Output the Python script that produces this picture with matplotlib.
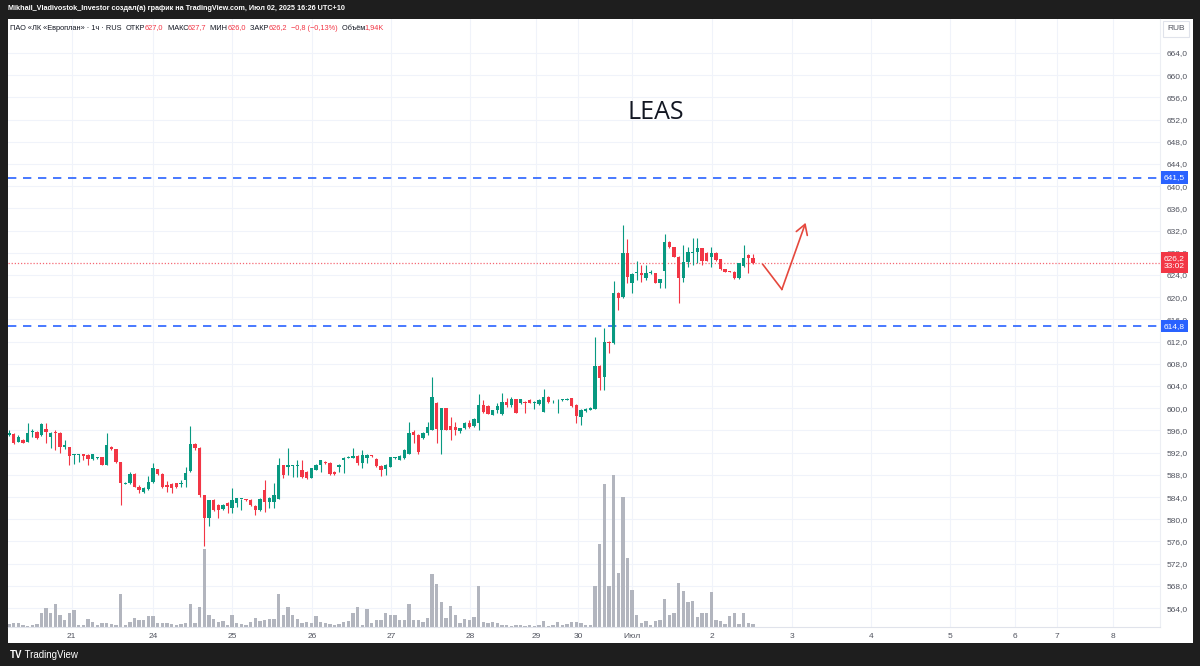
import numpy as np
import matplotlib
matplotlib.use("Agg")
import matplotlib.pyplot as plt
from matplotlib.patches import Rectangle
from matplotlib.transforms import blended_transform_factory

plt.rcParams['font.family'] = ['Liberation Sans', 'DejaVu Sans']

# hourly candles, LEAS (ПАО «ЛК «Европлан»)
opens = [595.1, 595.3, 594.0, 594.3, 594.0, 595.7, 595.7, 595.2, 596.3, 594.8,
         595.7, 595.5, 593.1, 593.0, 591.6, 591.6, 591.7, 591.5, 590.8, 591.1,
         591.2, 589.7, 593.1, 592.6, 590.4, 586.4, 586.5, 588.2, 585.9, 584.9,
         585.4, 586.8, 589.0, 588.2, 586.2, 586.4, 586.5, 586.3, 587.1, 588.7,
         593.5, 592.8, 584.4, 580.2, 583.5, 582.6, 581.8, 583.0, 582.0, 582.9,
         583.6, 583.6, 583.5, 582.4, 581.7, 585.3, 583.2, 583.2, 583.6, 589.8,
         589.5, 589.6, 589.6, 588.9, 588.6, 587.5, 588.9, 589.8, 590.4, 590.2,
         588.6, 589.5, 590.7, 591.1, 591.1, 591.4, 590.2, 591.0, 591.5, 590.8,
         589.6, 589.0, 589.5, 591.0, 590.7, 591.0, 591.8, 595.8, 595.2, 594.6,
         595.5, 596.1, 601.0, 596.1, 600.0, 596.8, 596.7, 595.9, 596.4, 597.3,
         596.8, 597.4, 600.6, 600.4, 598.8, 599.6, 599.0, 601.2, 600.6, 601.6,
         600.9, 601.2, 601.5, 601.0, 600.7, 599.4, 602.0, 601.4, 601.4, 601.5,
         601.5, 601.8, 600.6, 598.5, 599.5, 599.7, 599.9, 607.6, 605.7, 612.0,
         611.7, 620.8, 620.0, 628.0, 622.6, 624.4, 624.4, 623.4, 624.3, 624.3,
         622.5, 624.8, 629.9, 629.0, 627.3, 623.4, 626.4, 628.0, 628.2, 628.8,
         628.0, 627.2, 628.0, 626.8, 625.0, 624.7, 624.6, 623.4, 625.6, 627.6,
         627.0]
highs = [596.0, 595.5, 595.1, 594.4, 597.4, 596.2, 595.9, 597.3, 597.3, 595.8,
         596.1, 595.8, 594.3, 593.1, 591.7, 591.7, 591.7, 591.7, 591.7, 591.2,
         591.3, 595.5, 593.2, 592.6, 590.4, 586.8, 588.6, 588.3, 586.2, 585.8,
         587.8, 590.1, 589.1, 588.3, 586.9, 586.5, 586.6, 587.1, 589.5, 596.8,
         593.8, 593.1, 584.4, 583.5, 583.6, 582.8, 582.8, 583.2, 585.6, 583.9,
         583.7, 583.6, 583.6, 582.6, 583.8, 587.1, 584.1, 586.5, 591.0, 589.8,
         592.8, 589.8, 590.7, 590.7, 588.7, 589.3, 589.9, 590.7, 590.5, 590.3,
         588.7, 589.9, 591.2, 591.4, 592.8, 591.5, 592.4, 591.7, 591.6, 591.0,
         589.7, 589.9, 591.3, 591.3, 591.5, 592.6, 597.6, 596.0, 595.3, 595.7,
         597.6, 605.6, 601.2, 600.1, 600.1, 598.5, 597.6, 596.5, 597.5, 597.9,
         598.2, 602.6, 601.5, 600.5, 599.7, 600.9, 602.7, 601.8, 602.1, 601.7,
         601.7, 601.3, 601.6, 601.3, 601.6, 603.4, 602.2, 601.5, 601.6, 601.7,
         601.8, 601.9, 600.7, 599.8, 600.0, 600.2, 612.9, 607.7, 614.4, 612.1,
         623.0, 620.9, 633.0, 630.4, 624.3, 626.6, 625.8, 625.8, 624.9, 624.4,
         623.3, 631.4, 630.2, 629.1, 627.4, 629.4, 629.1, 630.6, 630.6, 628.9,
         628.1, 629.1, 628.1, 626.9, 625.1, 624.8, 624.7, 626.2, 629.4, 627.7,
         627.7]
lows = [595.0, 593.6, 593.9, 593.7, 593.9, 594.9, 594.4, 595.0, 593.7, 592.9,
        592.5, 591.9, 592.6, 589.8, 590.0, 590.4, 590.7, 589.8, 590.7, 590.9,
        589.7, 589.7, 592.5, 590.1, 582.6, 586.4, 586.4, 585.8, 584.8, 584.7,
        585.2, 586.6, 588.0, 585.6, 585.0, 584.7, 585.6, 585.8, 585.8, 588.6,
        592.5, 584.1, 575.1, 578.8, 581.5, 580.2, 581.7, 581.1, 581.1, 582.3,
        581.7, 583.3, 582.4, 580.8, 581.5, 581.4, 582.0, 582.0, 583.6, 587.4,
        588.0, 587.7, 587.7, 587.4, 587.3, 587.4, 588.8, 588.6, 590.0, 587.9,
        588.0, 588.6, 588.3, 591.0, 591.0, 589.8, 589.2, 590.1, 591.3, 589.5,
        587.8, 588.0, 589.4, 590.9, 590.6, 590.9, 591.7, 593.7, 591.8, 594.5,
        595.2, 596.0, 593.7, 591.8, 596.0, 594.3, 595.2, 595.5, 596.3, 596.4,
        596.6, 596.0, 599.1, 598.9, 598.7, 599.1, 598.8, 600.3, 600.3, 599.1,
        600.8, 599.2, 600.9, 599.8, 600.6, 599.3, 600.9, 600.9, 599.2, 601.3,
        601.4, 600.3, 597.3, 597.0, 599.4, 599.6, 599.8, 603.3, 603.3, 609.9,
        611.6, 617.7, 619.9, 622.5, 620.7, 623.1, 622.8, 623.1, 624.2, 622.5,
        621.6, 621.6, 628.8, 627.2, 619.0, 622.8, 625.5, 625.8, 626.1, 625.8,
        626.5, 625.4, 626.6, 624.9, 624.5, 624.5, 623.3, 623.3, 625.5, 624.3,
        626.0]
closes = [595.5, 593.7, 594.9, 593.8, 595.5, 595.9, 594.7, 597.1, 595.7, 595.5,
          595.5, 593.1, 593.3, 591.4, 591.7, 591.7, 591.4, 590.8, 591.7, 591.2,
          589.7, 593.3, 592.7, 590.4, 586.5, 586.6, 588.2, 585.9, 585.2, 585.6,
          586.8, 589.2, 588.2, 585.8, 585.8, 585.6, 585.8, 586.4, 588.4, 593.5,
          592.8, 584.4, 580.2, 583.5, 581.7, 581.7, 582.6, 582.4, 583.5, 583.8,
          583.7, 583.4, 582.6, 581.7, 583.6, 583.2, 583.8, 584.4, 589.8, 588.0,
          589.8, 589.7, 589.7, 587.7, 587.5, 589.2, 589.8, 590.6, 590.2, 588.2,
          588.2, 589.8, 591.1, 591.3, 591.4, 590.1, 591.5, 591.5, 591.4, 589.6,
          588.9, 589.8, 591.2, 591.2, 591.4, 592.5, 595.6, 595.2, 592.2, 595.6,
          596.7, 602.1, 596.2, 600.0, 596.1, 596.0, 596.0, 596.4, 597.4, 596.7,
          598.0, 600.6, 599.4, 599.0, 599.6, 600.4, 601.2, 600.6, 601.6, 599.2,
          601.6, 600.9, 601.0, 601.2, 601.5, 602.0, 601.1, 601.4, 601.5, 601.6,
          601.7, 600.4, 598.6, 599.7, 599.9, 600.1, 607.6, 605.4, 612.0, 611.7,
          620.8, 619.8, 628.0, 623.7, 624.2, 624.5, 624.0, 624.3, 624.4, 622.6,
          623.2, 629.9, 629.0, 627.3, 623.4, 626.4, 628.2, 628.2, 628.8, 626.6,
          626.6, 628.0, 626.7, 625.0, 624.6, 624.6, 623.4, 626.1, 627.1, 627.0,
          626.2]
# volume, thousands
volumes = [1.9, 2.6, 2.6, 1.3, 0.7, 1.3, 1.9, 9.1, 12.4, 9.1,
           15.0, 7.8, 4.6, 9.1, 11.1, 1.3, 1.3, 5.2, 3.3, 1.3,
           2.6, 2.6, 1.9, 1.3, 21.5, 1.3, 3.3, 5.9, 4.6, 4.6,
           7.2, 7.2, 2.6, 2.6, 2.6, 1.9, 1.3, 1.9, 2.6, 15.0,
           2.6, 13.0, 50.7, 7.8, 5.2, 3.3, 3.9, 1.3, 7.8, 2.6,
           1.9, 1.3, 3.3, 5.9, 3.9, 4.6, 5.2, 5.2, 21.5, 7.8,
           13.0, 7.8, 5.2, 2.6, 3.3, 2.6, 7.2, 3.3, 2.6, 1.9,
           1.3, 1.9, 3.3, 3.9, 9.1, 13.0, 1.3, 11.7, 2.6, 4.6,
           4.6, 9.1, 7.8, 7.8, 4.6, 4.6, 15.0, 4.6, 4.6, 3.3,
           5.9, 34.5, 28.0, 16.3, 5.9, 13.7, 7.8, 2.6, 5.2, 4.6,
           6.5, 26.7, 3.3, 2.6, 3.3, 2.6, 1.3, 1.3, 0.7, 1.3,
           1.3, 0.7, 1.3, 0.7, 1.3, 3.9, 0.7, 1.3, 3.3, 1.3,
           1.9, 3.3, 3.3, 2.6, 1.3, 1.3, 26.7, 53.3, 92.3, 26.7,
           98.2, 35.1, 83.9, 44.9, 24.1, 7.8, 2.6, 3.9, 1.3, 3.9,
           4.6, 18.2, 7.8, 9.1, 28.6, 23.4, 16.3, 16.9, 6.5, 9.1,
           9.1, 22.8, 4.6, 3.9, 1.9, 7.2, 9.1, 1.9, 9.1, 2.6,
           1.94]

day_pos = [13.5, 31, 48, 65.2, 82.2, 99.1, 113.3, 122.4, 134, 151.2,
           168.4, 185.4, 202.4, 216.3, 225.4, 237.4]
day_labels = ['21', '24', '25', '26', '27', '28', '29', '30', 'Июл', '2',
              '3', '4', '5', '6', '7', '8']
price_ticks = [564, 568, 572, 576, 580, 584, 588, 592, 596, 600, 604, 608, 612,
               616, 620, 624, 628, 632, 636, 640, 644, 648, 652, 656, 660, 664]
levels = [641.5, 614.8]
arrow_x = [162.1, 166.2, 171.3]
arrow_y = [625.9, 621.4, 633.4]

UP, DOWN, BLUE = '#089981', '#f23645', '#2962ff'
ARROW = '#e5483d'
TXT = '#50535e'
W, H = 1200, 666


def fx(x):
    return x / W


def fy(y):
    return 1 - y / H


def box(l, t, r, b):
    return [l / W, 1 - b / H, (r - l) / W, (b - t) / H]


def comma(v):
    return f"{v:.1f}".replace('.', ',').replace('-', '−')


fig = plt.figure(figsize=(12, 6.66), dpi=100, facecolor='#1e1e1e')
fig.patches.append(Rectangle((fx(8), fy(643)), (1193 - 8) / W, (643 - 19) / H,
                             transform=fig.transFigure, facecolor='white',
                             edgecolor='none', zorder=-5))

xlim = (-0.2, 247.5)
ylim = (560.6, 670.1)

# grid underneath everything
gax = fig.add_axes(box(8, 19, 1160, 627))
gax.set_xlim(xlim)
gax.set_ylim(ylim)
gax.patch.set_visible(False)
gax.axis('off')
for p in price_ticks:
    gax.axhline(p, color='#f0f3fa', lw=0.8)
for d in day_pos:
    gax.axvline(d, color='#f0f3fa', lw=0.8)

# volume
vax = fig.add_axes(box(8, 19, 1160, 627))
vax.set_xlim(xlim)
vax.set_ylim(0, max(volumes) * 608 / 152)
vax.patch.set_visible(False)
vax.axis('off')
x = np.arange(len(opens))
vax.bar(x, volumes, width=0.72, color='#b2b5be', lw=0)

# price
ax = fig.add_axes(box(8, 19, 1160, 627))
ax.patch.set_visible(False)
ax.set_xlim(xlim)
ax.set_ylim(ylim)
o, h, l, c = (np.array(a) for a in (opens, highs, lows, closes))
cols = np.where(c >= o, UP, DOWN)
ax.vlines(x, l, h, colors=cols, lw=0.8, zorder=3)
ax.bar(x, np.maximum(np.abs(c - o), 0.15), bottom=np.minimum(o, c),
       width=0.72, color=cols, lw=0, zorder=4)

for lv in levels:
    ax.axhline(lv, color=BLUE, lw=1.2, ls=(0, (5, 4)), zorder=2)
ax.axhline(closes[-1], color=DOWN, lw=0.9, ls=(0, (1, 1.5)), alpha=0.75, zorder=2)

ax.plot(arrow_x[:2], arrow_y[:2], color=ARROW, lw=1.2, zorder=5)
ax.annotate('', xy=(arrow_x[2], arrow_y[2]), xytext=(arrow_x[1], arrow_y[1]),
            arrowprops=dict(arrowstyle='->, head_length=0.5, head_width=0.3',
                            color=ARROW, lw=1.2, shrinkA=0, shrinkB=0,
                            mutation_scale=14), zorder=5)

ax.text(0.5625, 0.846, 'LEAS', transform=ax.transAxes, ha='center',
        va='center', fontsize=18, color='#131722', family=['Open Sans', 'DejaVu Sans'])

ax.yaxis.tick_right()
ax.set_yticks(price_ticks, [comma(p) for p in price_ticks])
ax.set_xticks(day_pos, day_labels)
ax.tick_params(length=0, labelsize=6, colors=TXT)
ax.tick_params(axis='y', pad=5)
ax.tick_params(axis='x', pad=4)
for s in ('top', 'left'):
    ax.spines[s].set_visible(False)
ax.spines['right'].set_color('#eceef3')
ax.spines['bottom'].set_color('#e0e3eb')

# price scale labels
tr = blended_transform_factory(ax.transAxes, ax.transData)
for lv in levels:
    ax.text(1.0 + 4 / 1152, lv, comma(lv), transform=tr, ha='left', va='center',
            fontsize=6, color='white', zorder=10, clip_on=False,
            bbox=dict(boxstyle='square,pad=0.35', fc=BLUE, ec='none'))
ax.text(1.0 + 4 / 1152, closes[-1], comma(closes[-1]) + '\n33:02', transform=tr,
        ha='left', va='center', fontsize=6, color='white', zorder=10,
        clip_on=False, linespacing=1.15,
        bbox=dict(boxstyle='square,pad=0.35', fc=DOWN, ec='none'))
fig.text(fx(1176), fy(29), 'RUB', ha='center', va='center', fontsize=6,
         color=TXT, bbox=dict(boxstyle='square,pad=0.5', fc='white', ec='#e0e3eb', lw=0.8))

# top bar
fig.text(fx(8), fy(9), 'Mikhail_Vladivostok_Investor создал(а) график на TradingView.com, '
         'Июл 02, 2025 16:26 UTC+10', color='white', fontsize=5.2,
         fontweight='bold', va='center', ha='left')

# legend line, pieces chained one after the other
chg = closes[-1] - closes[-2]
pct = chg / closes[-2] * 100
pieces = [('ПАО «ЛК «Европлан» · 1ч · RUS  ', '#131722'),
          ('ОТКР', '#131722'), (comma(opens[-1]), DOWN),
          ('  МАКС', '#131722'), (comma(highs[-1]), DOWN),
          ('  МИН', '#131722'), (comma(lows[-1]), DOWN),
          ('  ЗАКР', '#131722'), (comma(closes[-1]), DOWN),
          ('  ' + comma(chg) + ' (' +
           f"{pct:.2f}".replace('.', ',').replace('-', '−') + '%)', DOWN),
          ('  Объём', '#131722'),
          (f"{volumes[-1]:.2f}".replace('.', ',') + 'K', DOWN)]
prev = fig.text(fx(10), fy(28), pieces[0][0], color=pieces[0][1], fontsize=5.3,
                va='center', ha='left')
for s, col in pieces[1:]:
    prev = ax.annotate(s, xy=(1, 0), xycoords=prev, va='bottom', ha='left',
                       color=col, fontsize=5.3, annotation_clip=False)

# bottom logo
logo = fig.text(fx(10), fy(655), 'TV', color='white', fontsize=7,
                fontweight='bold', va='center', ha='left')
ax.annotate(' TradingView', xy=(1, 0), xycoords=logo, va='bottom', ha='left',
            color='white', fontsize=7, annotation_clip=False)

fig.savefig('out.png', dpi=100, facecolor=fig.get_facecolor())
